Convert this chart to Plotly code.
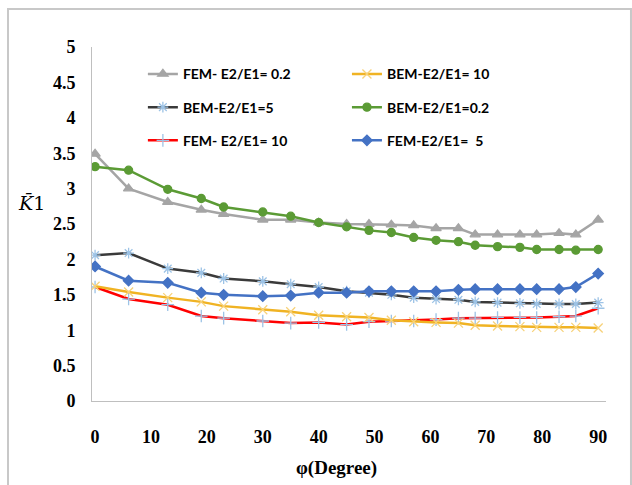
import plotly.graph_objects as go

phi = [0, 6, 13, 19, 23, 30, 35, 40, 45, 49, 53, 57, 61, 65, 68, 72, 76, 79, 83, 86, 90]

fem_02 = [3.49, 3.00, 2.81, 2.70, 2.64, 2.56, 2.56, 2.52, 2.50, 2.50, 2.49, 2.48, 2.44, 2.44,
          2.35, 2.35, 2.35, 2.35, 2.37, 2.35, 2.56]
bem_10 = [1.62, 1.54, 1.46, 1.40, 1.34, 1.29, 1.26, 1.21, 1.19, 1.18, 1.14, 1.12, 1.11, 1.10,
          1.07, 1.06, 1.05, 1.04, 1.04, 1.04, 1.03]
bem_5 = [2.06, 2.09, 1.87, 1.81, 1.73, 1.69, 1.65, 1.61, 1.55, 1.53, 1.50, 1.46, 1.44, 1.43,
         1.40, 1.39, 1.38, 1.37, 1.37, 1.37, 1.39]
bem_02 = [3.31, 3.26, 2.99, 2.86, 2.74, 2.67, 2.61, 2.52, 2.46, 2.41, 2.38, 2.31, 2.27, 2.25,
          2.20, 2.18, 2.17, 2.14, 2.14, 2.13, 2.14]
fem_10 = [1.61, 1.44, 1.36, 1.20, 1.17, 1.13, 1.10, 1.11, 1.08, 1.12, 1.13, 1.13, 1.15, 1.17,
          1.17, 1.18, 1.18, 1.18, 1.19, 1.20, 1.31]
fem_5 = [1.90, 1.70, 1.67, 1.53, 1.50, 1.48, 1.49, 1.53, 1.53, 1.55, 1.55, 1.55, 1.55, 1.57,
         1.58, 1.58, 1.58, 1.58, 1.58, 1.61, 1.80]

x_ticks = [0, 10, 20, 30, 40, 50, 60, 70, 80, 90]
y_ticks = [0, 0.5, 1, 1.5, 2, 2.5, 3, 3.5, 4, 4.5, 5]
y_tick_text = ["0", "0.5", "1", "1.5", "2", "2.5", "3", "3.5", "4", "4.5", "5"]

series = [
    # name, values, line color, marker symbol, marker color, marker size, legend
    ("FEM- E2/E1= 0.2", fem_02, "#a5a5a5", "triangle-up", "#a5a5a5", 9, "legend"),
    ("BEM-E2/E1=5", bem_5, "#3a3a3a", "asterisk-open", "#9dc3e6", 9, "legend"),
    ("FEM- E2/E1= 10", fem_10, "#ff0000", "cross-thin-open", "#9dc3e6", 9, "legend"),
    ("BEM-E2/E1= 10", bem_10, "#f0b323", "x-thin-open", "#f7d27a", 9, "legend2"),
    ("BEM-E2/E1=0.2", bem_02, "#5b9b35", "circle", "#5b9b35", 8, "legend2"),
    ("FEM-E2/E1=  5", fem_5, "#4472c4", "diamond", "#4472c4", 8, "legend2"),
]

fig = go.Figure()
for name, vals, lc, sym, mc, ms, lg in series:
    fig.add_trace(go.Scatter(
        x=phi, y=vals, name=name, mode="lines+markers",
        line=dict(color=lc, width=2.5),
        marker=dict(symbol=sym, color=mc, size=ms, line=dict(color=mc, width=1.3)),
        legend=lg, legendgroup=name,
    ))

legend_common = dict(
    font=dict(family="Lato", size=14, color="#000000", weight="bold"),
    bgcolor="rgba(0,0,0,0)", traceorder="grouped", tracegroupgap=12,
    orientation="v", yanchor="top", xanchor="left", itemwidth=30,
)

tick_font = dict(family="Liberation Serif", size=18, color="#000000", weight="bold")

fig.update_layout(
    width=632, height=485,
    margin=dict(l=92, r=26, t=47, b=84),
    paper_bgcolor="white", plot_bgcolor="white",
    showlegend=True,
    legend=dict(x=0.099, y=0.968, **legend_common),
    legend2=dict(x=0.496, y=0.968, **legend_common),
    xaxis=dict(
        range=[-0.55, 91.4], tickvals=x_ticks, showgrid=False, zeroline=False,
        showline=True, linecolor="#bfbfbf", linewidth=1, ticks="",
        tickfont=tick_font, ticklabelstandoff=19, automargin=False,
    ),
    yaxis=dict(
        range=[0, 5], tickvals=y_ticks, ticktext=y_tick_text, showgrid=False, zeroline=False,
        showline=True, linecolor="#bfbfbf", linewidth=1, ticks="",
        tickfont=tick_font, ticklabelstandoff=12, automargin=False,
    ),
    annotations=[
        dict(text="φ(Degree)", xref="paper", yref="paper", x=0.475, y=-0.188,
             xanchor="center", yanchor="middle", showarrow=False,
             font=dict(family="Liberation Serif", size=19, color="#000000", weight="bold")),
        dict(text="<i>K̄</i>1", xref="paper", yref="paper", x=-0.118, y=0.56,
             xanchor="center", yanchor="middle", showarrow=False,
             font=dict(family="DejaVu Serif", size=19, color="#000000")),
    ],
    shapes=[
        dict(type="rect", xref="paper", yref="paper", x0=-0.1634, x1=1.0486, y0=-0.26, y1=1.107,
             line=dict(color="#c8c8c8", width=2), fillcolor="rgba(0,0,0,0)", layer="below"),
    ],
)

fig.write_html("out.html", config={"displayModeBar": False},
               post_script="document.body.style.margin='0';")
